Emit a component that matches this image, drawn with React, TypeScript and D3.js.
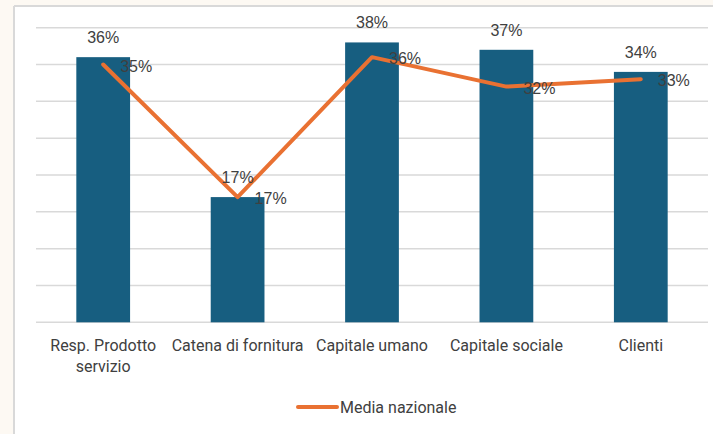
import React from "react";
import * as d3 from "d3";

const categories: string[][] = [
  ["Resp. Prodotto", "servizio"],
  ["Catena di fornitura"],
  ["Capitale umano"],
  ["Capitale sociale"],
  ["Clienti"],
];
const barValues = [0.36, 0.17, 0.38, 0.37, 0.34];
const lineValues = [0.35, 0.17, 0.36, 0.32, 0.33];
const yTicks = [0, 0.05, 0.1, 0.15, 0.2, 0.25, 0.3, 0.35, 0.4];
const legendLabel = "Media nazionale";

const W = 713;
const H = 434;
const BAR = "#175E80";
const ORANGE = "#E97132";
const LABEL = "#404040";

export default function App() {
  const keys = categories.map((c) => c.join(" "));
  const x = d3.scaleBand<string>().domain(keys).range([36, 708]).paddingInner(0.6).paddingOuter(0.3);
  const y = d3.scaleLinear().domain([0, 0.4]).range([322.3, 27.7]);
  const fmt = d3.format(".0%");
  const cx = (i: number) => (x(keys[i]) as number) + x.bandwidth() / 2;
  const line = d3
    .line<number>()
    .x((_, i) => cx(i))
    .y((d) => y(d));

  return (
    <svg
      width={W}
      height={H}
      style={{ position: "absolute", left: 0, top: 0, display: "block" }}
    >
      <rect x={0} y={0} width={W} height={H} fill="#fdf9f3" />
      <rect x={14} y={6} width={W - 14} height={H - 6} fill="#ffffff" />
      <line x1={14} y1={6} x2={W} y2={6} stroke="#d9d9d9" strokeWidth={2} />
      <line x1={14} y1={6} x2={14} y2={H} stroke="#d9d9d9" strokeWidth={2} />
      {yTicks.map((t) => (
        <line
          key={t}
          x1={36}
          x2={708}
          y1={y(t)}
          y2={y(t)}
          stroke="#d9d9d9"
          strokeWidth={1.5}
        />
      ))}
      {barValues.map((v, i) => (
        <rect
          key={i}
          x={x(keys[i])}
          y={y(v)}
          width={x.bandwidth()}
          height={y(0) - y(v)}
          fill={BAR}
        />
      ))}
      <path d={line(lineValues) || ""} fill="none" stroke={ORANGE} strokeWidth={4} strokeLinejoin="round" strokeLinecap="round" />
      {barValues.map((v, i) => (
        <text
          key={"b" + i}
          x={cx(i)}
          y={y(v) - 14}
          textAnchor="middle"
          fontFamily="Liberation Sans, Arial, sans-serif"
          fontSize={16}
          fill={LABEL}
        >
          {fmt(v)}
        </text>
      ))}
      {lineValues.map((v, i) => (
        <text
          key={"l" + i}
          x={cx(i) + 17}
          y={y(v) + 7}
          textAnchor="start"
          fontFamily="Liberation Sans, Arial, sans-serif"
          fontSize={16}
          fill={LABEL}
        >
          {fmt(v)}
        </text>
      ))}
      {categories.map((c, i) => (
        <text
          key={"c" + i}
          textAnchor="middle"
          fontFamily="Roboto, sans-serif"
          fontSize={16}
          fill={LABEL}
        >
          {c.map((s, j) => (
            <tspan key={j} x={cx(i)} y={351 + j * 21}>
              {s}
            </tspan>
          ))}
        </text>
      ))}
      <line x1={298} x2={337} y1={407} y2={407} stroke={ORANGE} strokeWidth={4} strokeLinecap="round" />
      <text x={340} y={412.5} fontFamily="Roboto, sans-serif" fontSize={16} fill={LABEL}>
        {legendLabel}
      </text>
    </svg>
  );
}
